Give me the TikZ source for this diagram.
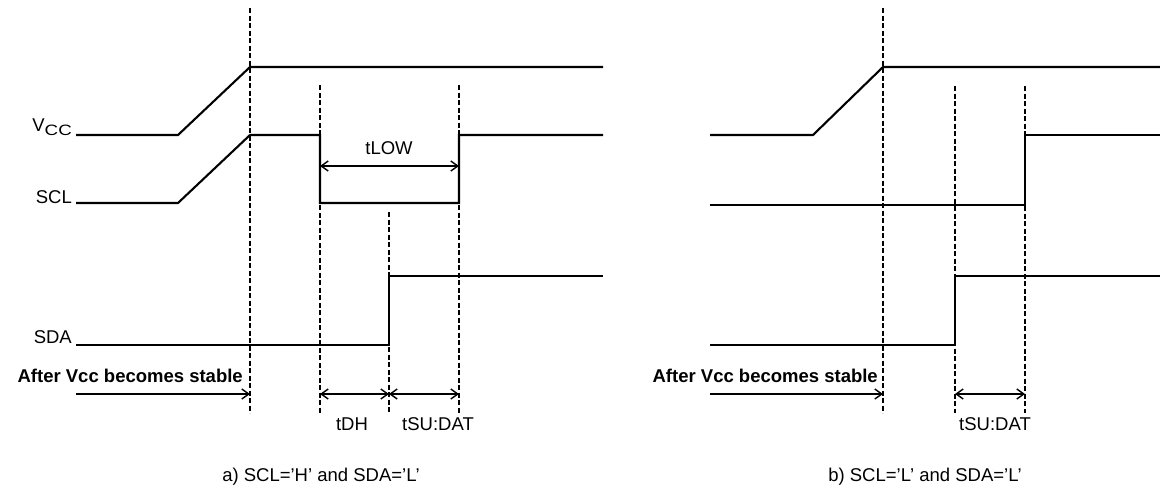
\documentclass[tikz,border=0pt]{standalone}
\usepackage{fontspec}
\setmainfont{Liberation Sans}
\usetikzlibrary{arrows.meta}
\tikzset{
  signal/.style={line width=2.1pt,line join=miter},
  marker/.style={line width=1.9pt,dash pattern=on 5pt off 2.5pt},
  barb/.tip={Straight Barb[length=7pt,width=10pt,line width=1.4pt]},
  span/.style={line width=1.6pt,barb-barb},
  lead/.style={line width=2.1pt,-barb},
  lbl/.style={font=\fontsize{18.5}{20}\selectfont,inner sep=0pt},
}

\begin{document}
\begin{tikzpicture}[x=1pt,y=-1pt]
    \useasboundingbox (0,0) rectangle (1160,488);

    \coordinate (stableA) at (250,394);
    \coordinate (lowA) at (320,394);
    \coordinate (dhA) at (389,394);
    \coordinate (suA) at (459,394);
    \coordinate (leadA) at (76,394);

    \draw[marker] (250,8) -- (250,413);
    \draw[marker] (320,85) -- (320,413);
    \draw[marker] (389,212) -- (389,413);
    \draw[marker] (459,85) -- (459,413);

    \node[lbl,anchor=base east] (vccA) at (72,131) {V\raisebox{-4pt}{\scalebox{1.25}[1]{\fontsize{15}{15}\selectfont CC}}};
    \node[lbl,anchor=base east] (sclA) at (72,203) {SCL};
    \node[lbl,anchor=base east] (sdaA) at (72,343) {SDA};
    \draw[signal] (76,135) -- (178,135) -- (250,67) -- (603,67);
    \draw[signal] (76,203) -- (178,203) -- (250,135) -- (320,135) -- (320,203) -- (459,203) -- (459,135) -- (603,135);
    \draw[signal] (76,345) -- (389,345) -- (389,276) -- (603,276);

    \coordinate (tlowL) at (320,166);
    \coordinate (tlowR) at (459,166);
    \draw[span] (tlowL) -- (tlowR);
    \node[lbl,anchor=base] (tlowA) at (389,154) {tLOW};

    \node[lbl,anchor=base east,font=\fontsize{18.5}{20}\selectfont\bfseries] (afterA) at (243,382) {After Vcc becomes stable};
    \draw[lead] (leadA) -- (stableA);
    \draw[span] (lowA) -- (dhA);
    \draw[span] (dhA) -- (suA);
    \node[lbl,anchor=base] (tdhA) at (352,430) {tDH};
    \node[lbl,anchor=base] (tsuA) at (438,430) {tSU:DAT};
    \node[lbl,anchor=base] (capA) at (321,481) {a) SCL='H' and SDA='L'};

    \coordinate (stableB) at (883,394);
    \coordinate (lowB) at (955,394);
    \coordinate (suB) at (1025,394);
    \coordinate (leadB) at (710,394);

    \draw[marker] (883,8) -- (883,413);
    \draw[marker] (955,86) -- (955,413);
    \draw[marker] (1025,86) -- (1025,413);

    \draw[signal] (710,135) -- (813,135) -- (883,67) -- (1160,67);
    \draw[signal] (710,205) -- (1025,205) -- (1025,135) -- (1160,135);
    \draw[signal] (710,345) -- (955,345) -- (955,276) -- (1160,276);

    \node[lbl,anchor=base east,font=\fontsize{18.5}{20}\selectfont\bfseries] (afterB) at (878,382) {After Vcc becomes stable};
    \draw[lead] (leadB) -- (stableB);
    \draw[span] (lowB) -- (suB);
    \node[lbl,anchor=base] (tsuB) at (995,430) {tSU:DAT};
    \node[lbl,anchor=base] (capB) at (925,481) {b) SCL='L' and SDA='L'};
\end{tikzpicture}
\end{document}
